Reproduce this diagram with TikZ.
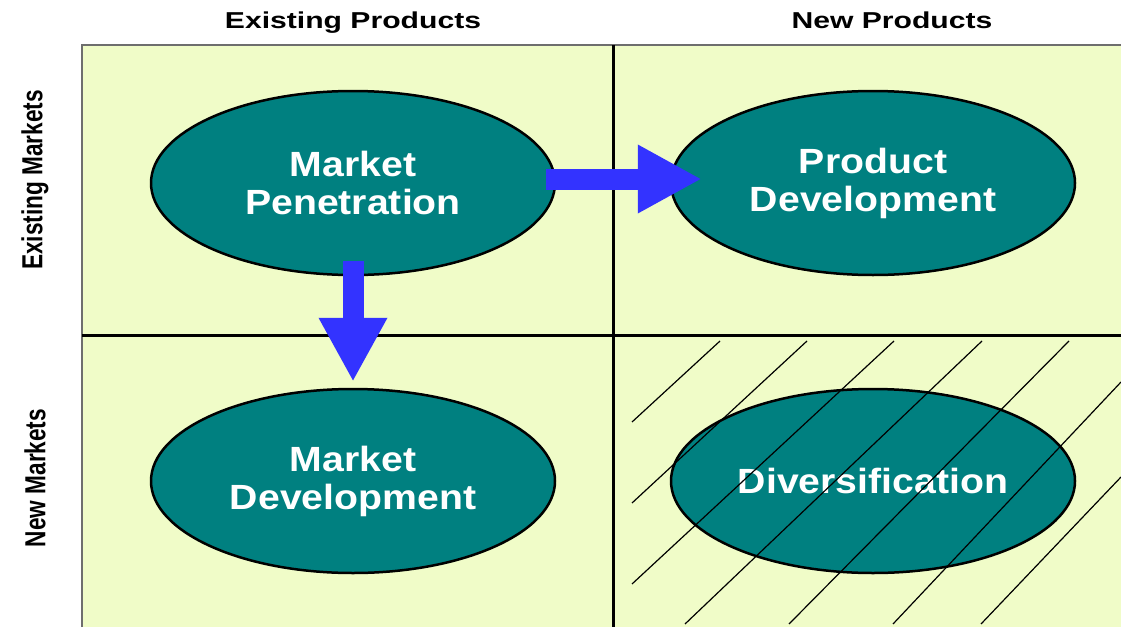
\documentclass[tikz,border=0pt]{standalone}
\usepackage{fontspec}
\usetikzlibrary{shapes.geometric,arrows.meta}
\setmainfont{Liberation Sans}
\newfontfamily\titlefont[FakeStretch=1.31]{Liberation Sans}
\newfontfamily\sidefont[FakeStretch=0.78]{Liberation Sans}
\newfontfamily\cellfont[FakeStretch=1.12]{Liberation Sans}
\definecolor{cellbg}{RGB}{240,252,200}
\definecolor{cellteal}{RGB}{0,128,128}
\definecolor{arrowblue}{RGB}{51,51,255}
\definecolor{rimgray}{RGB}{110,110,110}

\begin{document}
\begin{tikzpicture}[x=1pt,y=-1pt,
		cell/.style={ellipse, draw=black, line width=2.5pt, fill=cellteal,
			minimum width=404pt, minimum height=184pt, inner sep=0pt,
			text=white, align=center,
			font=\cellfont\bfseries\fontsize{35pt}{38pt}\selectfont},
		head/.style={anchor=base, font=\titlefont\bfseries\fontsize{23pt}{26pt}\selectfont},
		side/.style={rotate=90, font=\sidefont\bfseries\fontsize{29pt}{32pt}\selectfont},
		bigarrow/.style={arrowblue, line width=21pt, -{Triangle[length=64pt,width=64pt]}},
		hatch/.style={line width=1.2pt}]
		\useasboundingbox (0,0) rectangle (1121,629);
		% the four cells
		\fill[cellbg] (82,45) rectangle (1121,627);
		\draw[rimgray, line width=2.5pt] (82,627) -- (82,45) -- (1121,45);
		\draw[line width=3pt] (613,45) -- (613,627);
		\draw[line width=3pt] (82,335) -- (1121,335);
		% headings
		\node[head] (prodold) at (353,28) {Existing Products};
		\node[head] (prodnew) at (892,28) {New Products};
		\node[side] (mktold) at (35,180) {Existing Markets};
		\node[side] (mktnew) at (35,478) {New Markets};
		% strategies
		\node[cell] (pen) at (353,183) {Market\\Penetration};
		\node[cell] (pdev) at (873,183) {Product\\Development};
		\node[cell] (mdev) at (353,481) {Market\\Development};
		\node[cell] (div) at (873,481) {Diversification};
		% growth arrows
		\draw[bigarrow] ([shift={(-10pt,4pt)}]pen.east) -- ([shift={(32pt,4pt)}]pdev.west);
		\draw[bigarrow] ([yshift=15pt]pen.south) -- ([yshift=6pt]mdev.north);
		% hatching over diversification
		\draw[hatch] (632,422) -- (720,341);
		\draw[hatch] (632,503) -- (807,341);
		\draw[hatch] (632,584) -- (894,341);
		\draw[hatch] (685,624) -- (982,341);
		\draw[hatch] (789,624) -- (1069,341);
		\draw[hatch] (893,624) -- (1121,382);
		\draw[hatch] (981,624) -- (1121,477);
	\end{tikzpicture}
\end{document}
